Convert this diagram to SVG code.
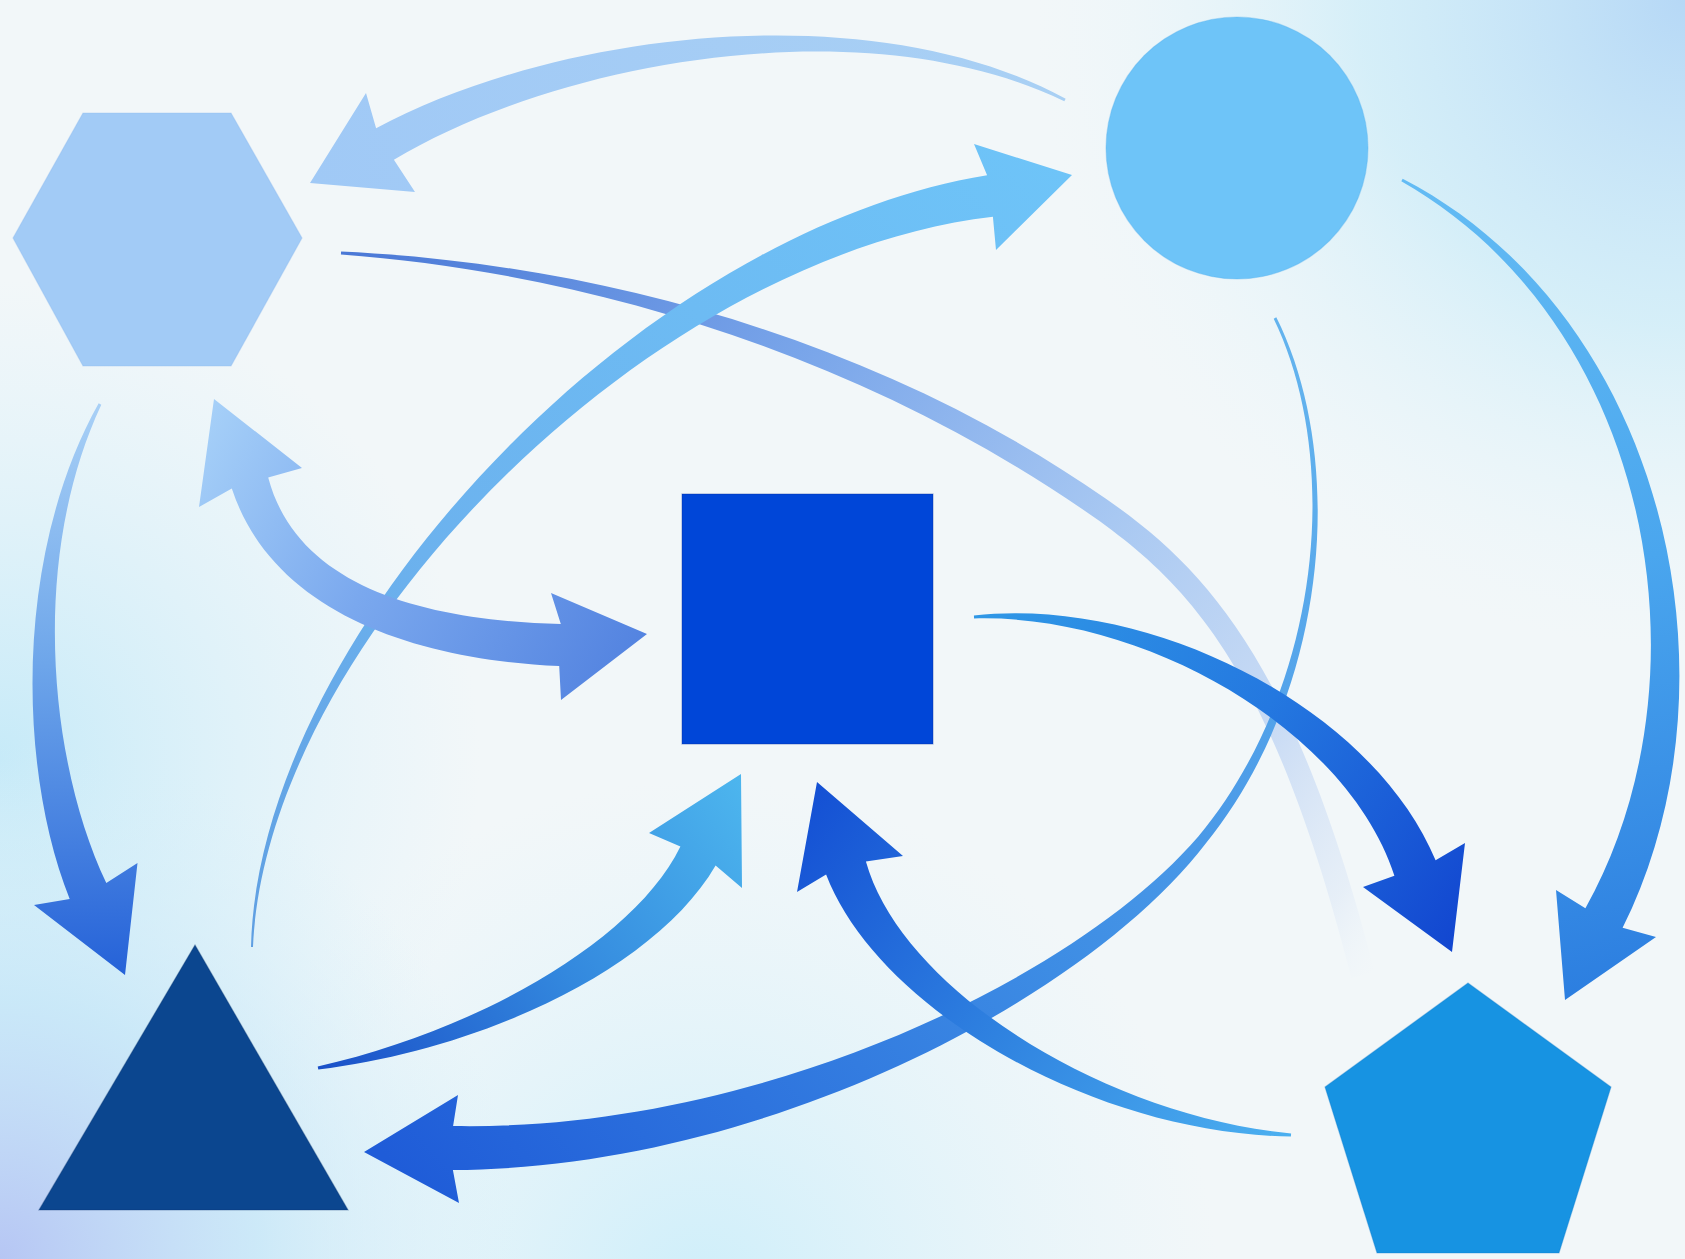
<svg xmlns="http://www.w3.org/2000/svg" width="1685" height="1259" viewBox="0 0 1685 1259">
<defs>
<radialGradient id="bgTR" cx="1685" cy="0" r="650" gradientUnits="userSpaceOnUse"><stop offset="0" stop-color="#b6d8f6"/><stop offset="0.5" stop-color="#c9ebf8" stop-opacity="0.7"/><stop offset="1" stop-color="#e8f6fa" stop-opacity="0"/></radialGradient>
<radialGradient id="bgBL" cx="0" cy="1259" r="520" gradientUnits="userSpaceOnUse"><stop offset="0" stop-color="#b6c6f4"/><stop offset="0.5" stop-color="#c4e6f8" stop-opacity="0.8"/><stop offset="1" stop-color="#d6f0fa" stop-opacity="0"/></radialGradient>
<radialGradient id="bgL" cx="0" cy="760" r="480" gradientUnits="userSpaceOnUse"><stop offset="0" stop-color="#c6eaf8"/><stop offset="1" stop-color="#d6f0fa" stop-opacity="0"/></radialGradient>
<radialGradient id="bgB" cx="700" cy="1300" r="520" gradientUnits="userSpaceOnUse"><stop offset="0" stop-color="#cdeefa"/><stop offset="1" stop-color="#dff3fa" stop-opacity="0"/></radialGradient>
<linearGradient id="g1" gradientUnits="userSpaceOnUse" x1="1065" y1="100" x2="310" y2="183"><stop offset="0" stop-color="#a9d0f4"/><stop offset="1" stop-color="#a0c9f6"/></linearGradient>
<linearGradient id="g2" gradientUnits="userSpaceOnUse" x1="252" y1="947" x2="1072" y2="175"><stop offset="0" stop-color="#5f9fe2"/><stop offset="0.35" stop-color="#6cb2ee"/><stop offset="1" stop-color="#6ec4f8"/></linearGradient>
<linearGradient id="g3" gradientUnits="userSpaceOnUse" x1="341" y1="253" x2="1365" y2="990"><stop offset="0" stop-color="#4a78d6"/><stop offset="0.35" stop-color="#7aa6ea"/><stop offset="0.62" stop-color="#a8c8f2"/><stop offset="0.82" stop-color="#c4d8f4" stop-opacity="0.9"/><stop offset="0.94" stop-color="#dde8f6" stop-opacity="0.55"/><stop offset="1" stop-color="#eef4fa" stop-opacity="0"/></linearGradient>
<linearGradient id="g4" gradientUnits="userSpaceOnUse" x1="214" y1="399" x2="648" y2="640"><stop offset="0" stop-color="#a6d0f8"/><stop offset="0.45" stop-color="#7aa8ee"/><stop offset="1" stop-color="#5383e0"/></linearGradient>
<linearGradient id="g5" gradientUnits="userSpaceOnUse" x1="100" y1="404" x2="110" y2="975"><stop offset="0" stop-color="#a8d0f6"/><stop offset="0.45" stop-color="#6ea6ea"/><stop offset="1" stop-color="#2562d8"/></linearGradient>
<linearGradient id="g6" gradientUnits="userSpaceOnUse" x1="1402" y1="180" x2="1580" y2="1000"><stop offset="0" stop-color="#64bcf4"/><stop offset="0.5" stop-color="#4aa6ee"/><stop offset="1" stop-color="#2c7ee0"/></linearGradient>
<linearGradient id="g7" gradientUnits="userSpaceOnUse" x1="1290" y1="320" x2="380" y2="1150"><stop offset="0" stop-color="#64b4ee"/><stop offset="0.5" stop-color="#3d8ce4"/><stop offset="1" stop-color="#1f5cd8"/></linearGradient>
<linearGradient id="g8" gradientUnits="userSpaceOnUse" x1="974" y1="617" x2="1452" y2="952"><stop offset="0" stop-color="#3098e6"/><stop offset="0.5" stop-color="#2478e0"/><stop offset="1" stop-color="#1246d0"/></linearGradient>
<linearGradient id="g9" gradientUnits="userSpaceOnUse" x1="318" y1="1068" x2="741" y2="774"><stop offset="0" stop-color="#1a50c8"/><stop offset="0.5" stop-color="#3388de"/><stop offset="1" stop-color="#4db6ee"/></linearGradient>
<linearGradient id="g10" gradientUnits="userSpaceOnUse" x1="1291" y1="1135" x2="817" y2="782"><stop offset="0" stop-color="#4cb0f0"/><stop offset="0.5" stop-color="#2f82e0"/><stop offset="1" stop-color="#1450d4"/></linearGradient>
</defs>
<style>
.arrow{stroke:none}
.node{stroke-width:1.2;stroke-opacity:0.35}
</style>
<g id="background">
<rect x="0" y="0" width="1685" height="1259" fill="#f2f7f9"/>
<rect x="0" y="0" width="1685" height="1259" fill="url(#bgL)"/>
<rect x="0" y="0" width="1685" height="1259" fill="url(#bgB)"/>
<rect x="0" y="0" width="1685" height="1259" fill="url(#bgBL)"/>
<rect x="0" y="0" width="1685" height="1259" fill="url(#bgTR)"/>
</g>
<g id="connectors">
<path id="hex-pent" class="arrow" fill="url(#g3)" d="M 341.1,251.5 C 591.9,263.1 874.7,337 1106.3,499 C 1207.6,569.4 1296.1,665.4 1374.6,972 L 1351.4,978 C 1273.9,674.6 1192.4,586.6 1093.7,517 C 865.3,357 590.1,272.9 340.9,254.5 Z"/>
<path id="circle-hex" class="arrow" fill="url(#g1)" d="M 1065.7,98.7 C 870.8,-7 556,31.6 376.1,128.3 L 366,93 L 310,183 L 415,192 L 393.9,159.7 C 564,58.4 869.2,7 1064.3,101.3 Z"/>
<path id="tri-circle" class="arrow" fill="url(#g2)" d="M 251,947 C 258.1,637.8 632.7,233 987.1,175.2 L 974,144 L 1072,175 L 996,250 L 992.9,216.8 C 647.3,257 265.9,642.2 253,947 Z"/>
<path id="hex-tri" class="arrow" fill="url(#g5)" d="M 101.3,404.7 C 27.9,561.4 50.7,766.8 106.3,883 L 137.5,863 L 125,975 L 34,905 L 69.7,899 C 19.3,773.2 12.1,558.6 98.7,403.3 Z"/>
<path id="circle-pent" class="arrow" fill="url(#g6)" d="M 1402.7,178.7 C 1666.7,315.6 1745.9,681.5 1622.6,927.8 L 1656,937 L 1565,1000 L 1556,890 L 1585.4,908.2 C 1714.1,678.5 1653.3,324.4 1401.3,181.3 Z"/>
<path id="circle-tri" class="arrow" fill="url(#g7)" d="M 1276.3,317.3 C 1347.5,459.7 1328.7,691.4 1205.9,843.2 C 1086.3,999 764.6,1168.4 452.9,1170 L 459,1203 L 364,1152 L 458,1095 L 453.1,1126 C 755.4,1131.6 1073.7,981 1198.1,836.8 C 1321.3,688.6 1342.5,460.3 1273.7,318.7 Z"/>
<path id="hex-square" class="arrow" fill="url(#g4)" d="M 268.2,477.5 L 302,468 L 214,399 L 199,507 L 231.8,488.5 C 272.8,613.2 416.8,659.7 559.2,666 L 561,700 L 647,634 L 551,593 L 560.8,624 C 423.2,620.3 297.2,586.8 268.2,477.5 Z"/>
<path id="square-pent" class="arrow" fill="url(#g8)" d="M 973.9,615.5 C 1152.3,596.3 1372,707.9 1435.6,860.3 L 1465,843 L 1452,952 L 1363,887 L 1394.4,875.7 C 1348,732.1 1147.7,613.7 974.1,618.5 Z"/>
<path id="tri-square" class="arrow" fill="url(#g9)" d="M 317.7,1066.5 C 476.7,1030.5 634,942 680.4,846.6 L 649,833 L 741,774 L 742,888 L 715.6,865.4 C 656,968 483.3,1049.5 318.3,1069.5 Z"/>
<path id="pent-square" class="arrow" fill="url(#g10)" d="M 1290.9,1136.5 C 1096.8,1134.5 878.6,1011.2 826.1,874.6 L 797,892 L 817,782 L 903,856 L 865.9,861.4 C 901.4,988.8 1103.2,1115.5 1291.1,1133.5 Z"/>
</g>
<g id="hexagon"><polygon class="node" points="13,238 83,113 231,113 302,238 231,366 83,366" fill="#a2cbf6" stroke="#8ab8ee"/></g>
<g id="circle"><circle class="node" cx="1237" cy="148" r="131" fill="#6ec4f8" stroke="#5ab2ee"/></g>
<g id="square"><rect class="node" x="682" y="494" width="251" height="250" fill="#0046d8" stroke="#0a2e9c"/></g>
<g id="triangle"><polygon class="node" points="195,945 39,1210 348,1210" fill="#0b468f" stroke="#06306e"/></g>
<g id="pentagon"><polygon class="node" points="1468,983 1611,1087 1559,1253 1377,1253 1325,1087" fill="#1793e2" stroke="#0f7ccc"/></g>
</svg>
